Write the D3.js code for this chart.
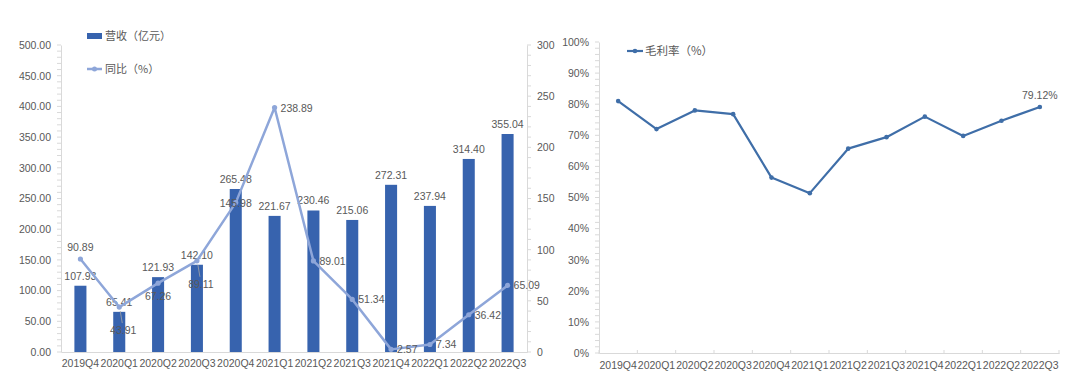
<!DOCTYPE html>
<html>
<head>
<meta charset="utf-8">
<script src="https://cdn.jsdelivr.net/npm/d3@7"></script>
<style>
  body { margin: 0; background: #fff; }
  text { font-family: "Liberation Sans", Arial, sans-serif; fill: #595959; }
  .cjk { font-family: "Noto Sans CJK SC", sans-serif; }
</style>
</head>
<body>
<div id="chart"></div>
<script>
// quarters shared by both panels
let quarters = ["2019Q4","2020Q1","2020Q2","2020Q3","2020Q4","2021Q1","2021Q2","2021Q3","2021Q4","2022Q1","2022Q2","2022Q3"];

// revenue (亿元) and yoy growth (%)
let revenue = [107.93, 65.41, 121.93, 142.10, 265.48, 221.67, 230.46, 215.06, 272.31, 237.94, 314.40, 355.04];
let yoy = [90.89, 43.91, 67.26, 89.11, 145.98, 238.89, 89.01, 51.34, 2.57, 7.34, 36.42, 65.09];
// where each yoy label sits relative to its point
let yoyLabelPos = ["above","leader","below","leader","center","right","right","right","right","right","right","right"];

// gross margin (%)
let grossMargin = [81.0, 72.0, 78.0, 76.8, 56.4, 51.4, 65.7, 69.4, 76.0, 69.8, 74.7, 79.12];

let leftTicks = [0, 50, 100, 150, 200, 250, 300, 350, 400, 450, 500];
let rightTicks = [0, 50, 100, 150, 200, 250, 300];
let marginTicks = [0, 10, 20, 30, 40, 50, 60, 70, 80, 90, 100];

let barColor = "#3763ae";
let yoyColor = "#8ea6d9";
let marginColor = "#3f6ea8";
let axisColor = "#d9d9d9";
let fs = 10.5;

let svg = d3.select("#chart").append("svg")
  .attr("width", 1080)
  .attr("height", 388);

svg.append("rect").attr("width", 1080).attr("height", 388).attr("fill", "#fff");

// ---------- left panel: revenue bars + yoy line ----------
let L = {left: 61, right: 527, top: 45, bottom: 352};

let x1 = d3.scaleBand().domain(quarters).range([L.left, L.right]).padding(0);
let yL = d3.scaleLinear().domain([0, 500]).range([L.bottom, L.top]);
let yR = d3.scaleLinear().domain([0, 300]).range([L.bottom, L.top]);

let g1 = svg.append("g");

// minor ticks on both y axes
let minorL = d3.range(0, 501, 10);
g1.selectAll(".mtl").data(minorL).enter().append("line")
  .attr("x1", L.left - 4).attr("x2", L.left)
  .attr("y1", d => yL(d)).attr("y2", d => yL(d))
  .attr("stroke", axisColor).attr("stroke-width", 1);
let minorR = d3.range(0, 301, 10);
g1.selectAll(".mtr").data(minorR).enter().append("line")
  .attr("x1", L.right).attr("x2", L.right + 4)
  .attr("y1", d => yR(d)).attr("y2", d => yR(d))
  .attr("stroke", axisColor).attr("stroke-width", 1);

let axL = g1.append("g").attr("transform", "translate(" + L.left + ",0)")
  .call(d3.axisLeft(yL).tickValues(leftTicks).tickFormat(d3.format(".2f")).tickSize(0).tickPadding(10));
let axR = g1.append("g").attr("transform", "translate(" + L.right + ",0)")
  .call(d3.axisRight(yR).tickValues(rightTicks).tickSize(0).tickPadding(10));
let axB = g1.append("g").attr("transform", "translate(0," + L.bottom + ")")
  .call(d3.axisBottom(x1).tickSize(0).tickPadding(8));

[axL, axR, axB].forEach(a => {
  a.select(".domain").attr("stroke", axisColor);
  a.selectAll("text").attr("font-size", fs).attr("fill", "#595959")
    .style("font-family", "'Liberation Sans', Arial, sans-serif");
});

let bw = x1.bandwidth() * 0.31;

g1.selectAll(".bar").data(revenue).enter().append("rect")
  .attr("x", (d, i) => x1(quarters[i]) + x1.bandwidth() / 2 - bw / 2)
  .attr("y", d => yL(d))
  .attr("width", bw)
  .attr("height", d => L.bottom - yL(d))
  .attr("fill", barColor);

g1.selectAll(".barlab").data(revenue).enter().append("text")
  .attr("x", (d, i) => x1(quarters[i]) + x1.bandwidth() / 2)
  .attr("y", d => yL(d) - 6)
  .attr("text-anchor", "middle")
  .attr("font-size", fs)
  .attr("fill", "#404040")
  .text(d => d.toFixed(2));

let cx = i => x1(quarters[i]) + x1.bandwidth() / 2;

let yoyLine = d3.line()
  .x((d, i) => cx(i))
  .y(d => yR(d));

g1.append("path").datum(yoy)
  .attr("d", yoyLine)
  .attr("fill", "none")
  .attr("stroke", yoyColor)
  .attr("stroke-width", 2.5)
  .attr("stroke-linejoin", "round");

g1.selectAll(".yoydot").data(yoy).enter().append("circle")
  .attr("cx", (d, i) => cx(i))
  .attr("cy", d => yR(d))
  .attr("r", 2.6)
  .attr("fill", yoyColor);

// leader lines for the two labels pushed under their points
yoy.forEach((d, i) => {
  if (yoyLabelPos[i] === "leader") {
    g1.append("line")
      .attr("x1", cx(i) + 1).attr("x2", cx(i) + 3)
      .attr("y1", yR(d) + 4).attr("y2", yR(d) + 16)
      .attr("stroke", "#a6a6a6").attr("stroke-width", 0.8);
  }
});

g1.selectAll(".yoylab").data(yoy).enter().append("text")
  .attr("x", (d, i) => {
    let p = yoyLabelPos[i];
    if (p === "right") return cx(i) + 6;
    if (p === "leader") return cx(i) + 4;
    return cx(i);
  })
  .attr("y", (d, i) => {
    let p = yoyLabelPos[i];
    if (p === "above") return yR(d) - 8;
    if (p === "below") return yR(d) + 17;
    if (p === "leader") return yR(d) + 27;
    return yR(d) + 4;
  })
  .attr("text-anchor", (d, i) => yoyLabelPos[i] === "right" ? "start" : "middle")
  .attr("font-size", fs)
  .attr("fill", "#404040")
  .text(d => d.toFixed(2));

// legend
g1.append("rect").attr("x", 87).attr("y", 33).attr("width", 15).attr("height", 6).attr("fill", barColor);
g1.append("text").attr("class", "cjk").attr("x", 105).attr("y", 40).attr("font-size", 11).text("营收（亿元）");
g1.append("line").attr("x1", 87).attr("x2", 102).attr("y1", 69).attr("y2", 69)
  .attr("stroke", yoyColor).attr("stroke-width", 2.5);
g1.append("circle").attr("cx", 94.5).attr("cy", 69).attr("r", 2.5).attr("fill", yoyColor);
g1.append("text").attr("class", "cjk").attr("x", 105).attr("y", 73).attr("font-size", 11).text("同比（%）");

// ---------- right panel: gross margin ----------
let R = {left: 599, right: 1059, top: 42, bottom: 353};

let x2 = d3.scaleBand().domain(quarters).range([R.left, R.right]).padding(0);
let yM = d3.scaleLinear().domain([0, 100]).range([R.bottom, R.top]);

let g2 = svg.append("g");

g2.selectAll(".mtm").data(d3.range(0, 101, 2)).enter().append("line")
  .attr("x1", R.left - 4).attr("x2", R.left)
  .attr("y1", d => yM(d)).attr("y2", d => yM(d))
  .attr("stroke", axisColor).attr("stroke-width", 1);

let axM = g2.append("g").attr("transform", "translate(" + R.left + ",0)")
  .call(d3.axisLeft(yM).tickValues(marginTicks).tickFormat(d => d + "%").tickSize(0).tickPadding(10));
let axM2 = g2.append("g").attr("transform", "translate(0," + R.bottom + ")")
  .call(d3.axisBottom(x2).tickSize(0).tickPadding(9));

[axM, axM2].forEach(a => {
  a.select(".domain").attr("stroke", axisColor);
  a.selectAll("text").attr("font-size", fs).attr("fill", "#595959")
    .style("font-family", "'Liberation Sans', Arial, sans-serif");
});

// small tick marks at the quarter boundaries
g2.selectAll(".xt").data(quarters.concat(["end"])).enter().append("line")
  .attr("x1", (d, i) => R.left + i * x2.bandwidth())
  .attr("x2", (d, i) => R.left + i * x2.bandwidth())
  .attr("y1", R.bottom - 3).attr("y2", R.bottom + 1)
  .attr("stroke", axisColor);

let cx2 = i => x2(quarters[i]) + x2.bandwidth() / 2;

g2.append("path").datum(grossMargin)
  .attr("d", d3.line().x((d, i) => cx2(i)).y(d => yM(d)))
  .attr("fill", "none")
  .attr("stroke", marginColor)
  .attr("stroke-width", 2.2)
  .attr("stroke-linejoin", "round");

g2.selectAll(".mdot").data(grossMargin).enter().append("circle")
  .attr("cx", (d, i) => cx2(i))
  .attr("cy", d => yM(d))
  .attr("r", 2.3)
  .attr("fill", marginColor);

let last = grossMargin.length - 1;
g2.append("text")
  .attr("x", cx2(last))
  .attr("y", yM(grossMargin[last]) - 8)
  .attr("text-anchor", "middle")
  .attr("font-size", fs)
  .attr("fill", "#404040")
  .text(grossMargin[last].toFixed(2) + "%");

g2.append("line").attr("x1", 627).attr("x2", 643).attr("y1", 51).attr("y2", 51)
  .attr("stroke", marginColor).attr("stroke-width", 2.2);
g2.append("circle").attr("cx", 635).attr("cy", 51).attr("r", 2.3).attr("fill", marginColor);
g2.append("text").attr("class", "cjk").attr("x", 645).attr("y", 55).attr("font-size", 11.5).text("毛利率（%）");
</script>
</body>
</html>
